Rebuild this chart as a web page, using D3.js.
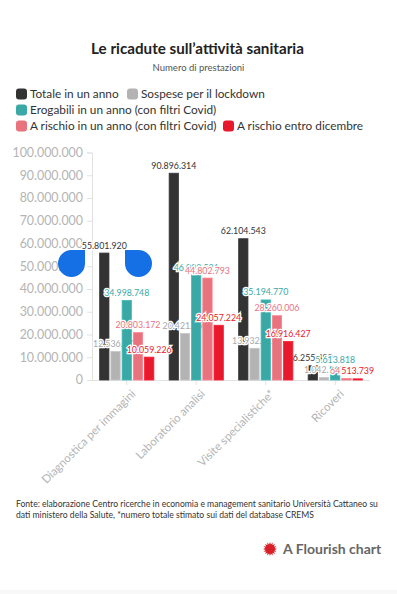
<!DOCTYPE html>
<html>
<head>
<meta charset="utf-8">
<script src="https://cdn.jsdelivr.net/npm/d3@7"></script>
<style>
  body { margin: 0; background: #fff; }
  svg { display: block; font-family: Lato, "Noto Sans", sans-serif; }
</style>
</head>
<body>
<svg width="397" height="594"></svg>
<script>
var categories = ['Diagnostica per immagini', 'Laboratorio analisi', 'Visite specialistiche*', 'Ricoveri'];
var seriesNames = ['Totale in un anno', 'Sospese per il lockdown', 'Erogabili in un anno (con filtri Covid)',
    'A rischio in un anno (con filtri Covid)', 'A rischio entro dicembre'];
var totale = [55801920, 90896314, 62104543, 6255480];
var sospese = [12536377, 20421650, 13932411, 1042570];
var erogabili = [34998748, 46093521, 35194770, 5613818];
var rischioAnno = [20803172, 44802793, 28260006, 641662];
var rischioDicembre = [10059226, 24057224, 16916427, 513739];
var yTicks = [0, 10000000, 20000000, 30000000, 40000000, 50000000, 60000000, 70000000, 80000000, 90000000, 100000000];

var seriesValues = [totale, sospese, erogabili, rischioAnno, rischioDicembre];
var barColors = ['#333333', '#b3b3b3', '#3aa9a6', '#e8737f', '#e8192c'];
var labelColors = ['#333333', '#a8a8a8', '#3aa9a6', '#e8737f', '#e8192c'];

var it = d3.formatLocale({decimal: ',', thousands: '.', grouping: [3], currency: ['€', '']});
var fmt = it.format(',d');

var svg = d3.select('svg');
var width = +svg.attr('width');

// titolo
svg.append('text')
    .attr('x', width / 2 - 1).attr('y', 54)
    .attr('text-anchor', 'middle')
    .style('font-size', '15.2px').style('font-weight', 700).style('fill', '#222')
    .text('Le ricadute sull\u2019attività sanitaria');
svg.append('text')
    .attr('x', width / 2).attr('y', 71)
    .attr('text-anchor', 'middle')
    .style('font-size', '9.5px').style('fill', '#555')
    .text('Numero di prestazioni');

// legenda
var legendPos = [[16, 94], [127, 94], [16, 110], [16, 126], [223, 126]];
var legend = svg.append('g').attr('class', 'legend');
var legendItem = legend.selectAll('g')
    .data(seriesNames)
    .enter()
    .append('g')
    .attr('transform', function(d, i) { return 'translate(' + legendPos[i][0] + ',' + legendPos[i][1] + ')'; });
legendItem.append('rect')
    .attr('x', 0).attr('y', -5.5).attr('width', 11).attr('height', 11).attr('rx', 3)
    .style('fill', function(d, i) { return barColors[i]; });
legendItem.append('text')
    .attr('x', 14).attr('dy', '0.35em')
    .style('font-size', '11.8px').style('fill', '#333')
    .text(function(d) { return d; });

// scale
var x0 = d3.scaleBand()
    .domain(categories)
    .range([92, 370])
    .paddingInner(0.22)
    .paddingOuter(0.11);
var x1 = d3.scaleBand()
    .domain(d3.range(seriesNames.length))
    .range([0, x0.bandwidth()])
    .paddingInner(0.17);
var y = d3.scaleLinear()
    .domain([0, 100000000])
    .range([380, 152.5]);

// asse y
var yAxis = svg.append('g')
    .attr('transform', 'translate(92,0)')
    .call(d3.axisLeft(y).tickValues(yTicks).tickFormat(fmt).tickSize(5).tickPadding(4));
yAxis.select('.domain').attr('stroke', '#e2e2e2');
yAxis.selectAll('.tick line').attr('stroke', '#e2e2e2');
yAxis.selectAll('.tick text').style('font-size', '12.4px').style('fill', '#b4b4b4')
    .style('font-family', 'Lato, sans-serif');

// asse x
var xAxis = svg.append('g')
    .attr('transform', 'translate(0,380)')
    .call(d3.axisBottom(x0).tickSize(5).tickSizeOuter(0).tickPadding(3));
xAxis.select('.domain').attr('stroke', '#e2e2e2').attr('d', 'M88,0.5H370');
xAxis.selectAll('.tick line').attr('stroke', '#e2e2e2');
xAxis.selectAll('.tick text')
    .attr('text-anchor', 'end')
    .attr('transform', 'translate(1,6) rotate(-45)')
    .attr('dy', '0.35em')
    .style('font-size', '11.5px').style('fill', '#b4b4b4')
    .style('font-family', 'Lato, sans-serif');

// barre ed etichette, serie per serie
var plot = svg.append('g').attr('class', 'bars');
seriesValues.forEach(function(values, s) {
    var g = plot.append('g').attr('class', 'series-' + s);
    var data = values.map(function(v, i) { return {cat: categories[i], value: v}; });

    g.selectAll('rect')
        .data(data)
        .enter()
        .append('rect')
        .attr('x', function(d) { return x0(d.cat) + x1(s); })
        .attr('y', function(d) { return y(d.value); })
        .attr('width', x1.bandwidth())
        .attr('height', function(d) { return y(0) - y(d.value); })
        .style('fill', barColors[s])
        .style('stroke', d3.color(barColors[s]).brighter(0.3))
        .style('stroke-width', 0.8);

    g.selectAll('text')
        .data(data)
        .enter()
        .append('text')
        .attr('x', function(d) { return x0(d.cat) + x1(s) + x1.bandwidth() / 2; })
        .attr('y', function(d) { return y(d.value) - 4.5; })
        .attr('text-anchor', 'middle')
        .style('font-size', '8.8px')
        .style('fill', labelColors[s])
        .style('stroke', '#fff').style('stroke-width', 2.5).style('paint-order', 'stroke')
        .text(function(d) { return fmt(d.value); });
});

// sovrapposizione blu presente nello screenshot
var blob = svg.append('g').style('fill', '#1570e6');
blob.append('path').attr('d', 'M58,263.5A13.5,13.5 0 0 1 71.5,250H85V263.5A13.5,13.5 0 0 1 71.5,277A13.5,13.5 0 0 1 58,263.5Z');
blob.append('path').attr('d', 'M125,250H138.5A13.5,13.5 0 0 1 152,263.5A13.5,13.5 0 0 1 138.5,277A13.5,13.5 0 0 1 125,263.5Z');

// fonte
var note = svg.append('g').style('font-size', '8.6px').style('fill', '#333');
note.append('text').attr('x', 16).attr('y', 507)
    .text('Fonte: elaborazione Centro ricerche in economia e management sanitario Università Cattaneo su');
note.append('text').attr('x', 16).attr('y', 518)
    .text('dati ministero della Salute, *numero totale stimato sui dati del database CREMS');

// marchio Flourish
var brand = svg.append('g').attr('transform', 'translate(270,549)');
var sunPoints = d3.range(32).map(function(i) {
    var r = i % 2 ? 4.6 : 7;
    var a = i * Math.PI / 16;
    return [a, r];
});
brand.append('path')
    .attr('d', d3.lineRadial().curve(d3.curveLinearClosed)(sunPoints))
    .style('fill', '#d61f26');
brand.append('text')
    .attr('x', 13).attr('dy', '0.35em')
    .style('font-size', '14px').style('font-weight', 700).style('fill', '#666')
    .text('A Flourish chart');

svg.append('rect').attr('x', 0).attr('y', 590).attr('width', width).attr('height', 4).style('fill', '#f8f8f8');
</script>
</body>
</html>
